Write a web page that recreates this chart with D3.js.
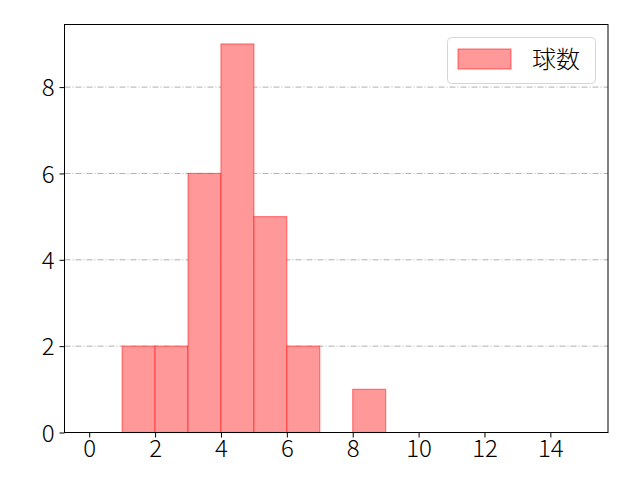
<!DOCTYPE html>
<html>
<head>
<meta charset="utf-8">
<script src="https://cdn.jsdelivr.net/npm/d3@7"></script>
<style>
body{margin:0;background:#fff;}
svg{display:block;font-family:"Noto Sans CJK JP","Noto Sans",sans-serif;}
</style>
</head>
<body>
<svg id="c" width="640" height="480"></svg>
<script>
const binStarts = [0,1,2,3,4,5,6,7,8,9,10,11,12,13,14];
const counts    = [0,2,2,6,9,5,2,0,1,0,0,0,0,0,0];
const binWidth = 1;
const xTicks = [0,2,4,6,8,10,12,14];
const yTicks = [0,2,4,6,8];
const seriesLabel = "球数";

const svg = d3.select("#c");
const L=64.5, R=608, T=24.5, B=432.5;
const xs = d3.scaleLinear().domain([-0.75,15.75]).range([L,R]);
const ys = d3.scaleLinear().domain([0,9.45]).range([B,T]);

// grid
svg.append("g").selectAll("line").data(yTicks.filter(d=>d>0)).join("line")
  .attr("x1",L).attr("x2",R).attr("y1",d=>ys(d)).attr("y2",d=>ys(d))
  .attr("stroke","#b0b0b0").attr("stroke-width",1).attr("stroke-dasharray","6,2,1,2");

// bars
const bars = binStarts.map((s,i)=>({s, c:counts[i]}));
svg.append("g").selectAll("rect").data(bars).join("rect")
  .attr("x",d=>xs(d.s)).attr("width",d=>xs(d.s+binWidth)-xs(d.s))
  .attr("y",d=>ys(d.c)).attr("height",d=>ys(0)-ys(d.c))
  .attr("fill","#ff9999")
  .attr("stroke","rgba(255,0,0,0.45)").attr("stroke-width",1.2);

// axes
const xAxis = d3.axisBottom(xs).tickValues(xTicks).tickSize(5).tickPadding(3);
const yAxis = d3.axisLeft(ys).tickValues(yTicks).tickSize(5).tickPadding(5);
const gx = svg.append("g").attr("transform",`translate(0,${B})`).call(xAxis);
const gy = svg.append("g").attr("transform",`translate(${L},0)`).call(yAxis);
[gx,gy].forEach(g=>{
  g.select(".domain").remove();
  g.selectAll("line").attr("stroke","#000").attr("stroke-width",1);
  g.selectAll("text").attr("font-size",24).attr("font-weight",300).attr("fill","#000")
   .attr("font-family","'Noto Sans CJK JP','Noto Sans',sans-serif");
});
gx.selectAll("text").attr("dy","0.7em");
gy.selectAll("text").attr("dy","0.36em");

// frame
svg.append("rect").attr("x",L).attr("y",T).attr("width",R-L).attr("height",B-T)
  .attr("fill","none").attr("stroke","#000").attr("stroke-width",1);

// legend
const lg = svg.append("g");
lg.append("rect").attr("x",447.5).attr("y",37.5).attr("width",148).attr("height",46)
  .attr("rx",4).attr("fill","#fff").attr("fill-opacity",0.8).attr("stroke","#d6d6d6");
lg.append("rect").attr("x",458).attr("y",49).attr("width",53).attr("height",20)
  .attr("fill","#ff9999").attr("stroke","rgba(255,0,0,0.45)").attr("stroke-width",1.2);
lg.append("text").attr("x",532).attr("y",60).attr("dy","0.35em")
  .attr("font-size",24).attr("font-weight",300).attr("fill","#000").text(seriesLabel);
</script>
</body>
</html>
